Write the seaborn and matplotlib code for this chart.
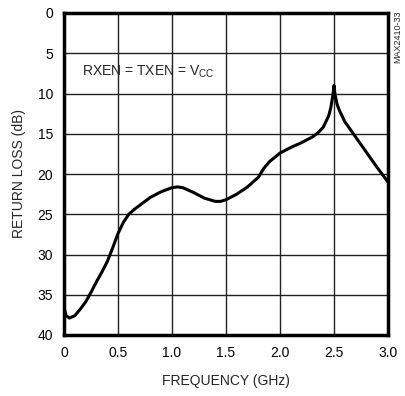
import matplotlib
matplotlib.use("Agg")
import matplotlib.pyplot as plt
import seaborn as sns
import pandas as pd

freq_ghz = [0.0, 0.02, 0.05, 0.1, 0.15, 0.2, 0.25, 0.3, 0.35, 0.4, 0.45, 0.5, 0.55, 0.6,
            0.65, 0.7, 0.8, 0.9, 1.0, 1.05, 1.1, 1.2, 1.3, 1.4, 1.45, 1.5, 1.6, 1.7,
            1.8, 1.85, 1.9, 2.0, 2.1, 2.2, 2.3, 2.35, 2.4, 2.45, 2.47, 2.49, 2.5,
            2.51, 2.53, 2.55, 2.6, 2.7, 2.8, 2.9, 3.0]
return_loss_db = [36.6, 37.6, 37.9, 37.6, 36.8, 35.9, 34.7, 33.4, 32.2, 30.9, 29.2, 27.4,
                  26.0, 25.0, 24.4, 23.9, 22.9, 22.2, 21.7, 21.6, 21.7, 22.3, 23.0, 23.4,
                  23.4, 23.2, 22.5, 21.6, 20.4, 19.3, 18.5, 17.4, 16.7, 16.1, 15.4, 14.9,
                  14.2, 12.8, 11.8, 10.2, 9.0, 10.2, 11.4, 12.1, 13.5, 15.4, 17.3, 19.2,
                  21.0]
x_ticks = [0, 0.5, 1.0, 1.5, 2.0, 2.5, 3.0]
x_tick_labels = ["0", "0.5", "1.0", "1.5", "2.0", "2.5", "3.0"]
y_ticks = [0, 5, 10, 15, 20, 25, 30, 35, 40]

df = pd.DataFrame({"freq": freq_ghz, "rl": return_loss_db})

sns.set_style("white")
plt.rcParams['font.family'] = ['Liberation Sans', 'DejaVu Sans']

fig = plt.figure(figsize=(4.06, 3.96), dpi=100)
ax = fig.add_axes([64/406, (396-335)/396, (388-64)/406, (335-13)/396])

ax.set_xlim(0, 3.0)
ax.set_ylim(40, 0)
ax.set_xticks(x_ticks)
ax.set_xticklabels(x_tick_labels)
ax.set_yticks(y_ticks)
ax.grid(True, color="#222222", linewidth=1.0)
ax.set_axisbelow(True)

sns.lineplot(data=df, x="freq", y="rl", ax=ax, color="black", linewidth=2.2)

for s in ax.spines.values():
    s.set_linewidth(2.5)
    s.set_color("black")
ax.tick_params(axis="both", length=0, labelsize=10, pad=8, colors="black")
ax.set_xlabel("FREQUENCY (GHz)", fontsize=10, labelpad=10)
ax.set_ylabel("RETURN LOSS (dB)", fontsize=10, labelpad=8)

ax.text(0.17, 7.3, r"RXEN = TXEN = V$_{\mathregular{CC}}$", fontsize=10, ha="left", va="center")
fig.text(398/406, 1 - 37/396, "MAX2410-33", rotation=90, fontsize=6.5, ha="center", va="center")

fig.savefig("out.png", dpi=100)
